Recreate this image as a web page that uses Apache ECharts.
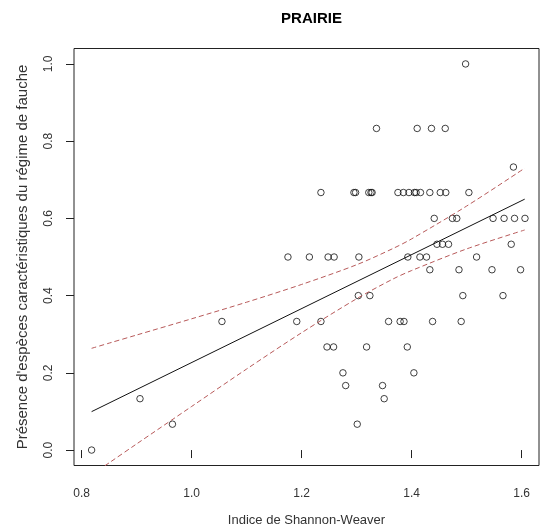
<!DOCTYPE html>
<html>
<head>
<meta charset="utf-8">
<script src="https://cdn.jsdelivr.net/npm/echarts@6/dist/echarts.min.js"></script>
<style>html,body{margin:0;padding:0;background:#fff}#c{width:542px;height:532px}</style>
</head>
<body>
<div id="c"></div>
<script>
// Shannon-Weaver index (x) and presence of mowing-regime species (y)
var shannon = [
  1.498,
  1.336, 1.410, 1.436, 1.461,
  1.585,
  1.235, 1.295, 1.298, 1.322, 1.326, 1.328, 1.375, 1.385, 1.395, 1.405, 1.408, 1.416, 1.433, 1.452, 1.462, 1.504,
  1.441, 1.474, 1.482, 1.548, 1.568, 1.587, 1.606,
  1.446, 1.456, 1.467, 1.581,
  1.175, 1.214, 1.248, 1.259, 1.304, 1.393, 1.415, 1.427, 1.518,
  1.433, 1.486, 1.546, 1.598,
  1.303, 1.324, 1.493, 1.566,
  1.055, 1.191, 1.235, 1.358, 1.379, 1.386, 1.438, 1.490,
  1.246, 1.258, 1.318, 1.392,
  1.275, 1.404,
  1.280, 1.347,
  0.906, 1.350,
  0.965, 1.301,
  0.818
];
var presence = [
  1.0,
  0.833, 0.833, 0.833, 0.833,
  0.733,
  0.667, 0.667, 0.667, 0.667, 0.667, 0.667, 0.667, 0.667, 0.667, 0.667, 0.667, 0.667, 0.667, 0.667, 0.667, 0.667,
  0.6, 0.6, 0.6, 0.6, 0.6, 0.6, 0.6,
  0.533, 0.533, 0.533, 0.533,
  0.5, 0.5, 0.5, 0.5, 0.5, 0.5, 0.5, 0.5, 0.5,
  0.467, 0.467, 0.467, 0.467,
  0.4, 0.4, 0.4, 0.4,
  0.333, 0.333, 0.333, 0.333, 0.333, 0.333, 0.333, 0.333,
  0.267, 0.267, 0.267, 0.267,
  0.2, 0.2,
  0.167, 0.167,
  0.133, 0.133,
  0.067, 0.067,
  0.0
];
// fitted regression line end points
var fitX = [0.818, 1.6055];
var fitY = [0.0995, 0.6498];
// confidence band
var bandX     = [0.818, 0.85, 0.9, 1.0, 1.1, 1.2, 1.3, 1.366, 1.4, 1.5, 1.6055];
var bandUpper = [0.2635, 0.277, 0.298, 0.340, 0.383, 0.429, 0.480, 0.522, 0.547, 0.632, 0.730];
var bandLower = [-0.0645, -0.033, 0.016, 0.113, 0.210, 0.304, 0.392, 0.443, 0.465, 0.521, 0.570];
// tick labels
var xTicks = [0.8, 1.0, 1.2, 1.4, 1.6];
var yTicks = [0.0, 0.2, 0.4, 0.6, 0.8, 1.0];

function pairs(a, b) { return a.map(function (v, i) { return [v, b[i]]; }); }

var FONT = '"Liberation Sans", Arial, sans-serif';
var dashCol = '#b85a5a';

var chart = echarts.init(document.getElementById('c'), null, {renderer: 'canvas'});
chart.setOption({
  animation: false,
  backgroundColor: '#fff',
  title: {
    text: 'PRAIRIE',
    left: 306.5,
    top: 6,
    textAlign: 'center',
    textStyle: {fontFamily: FONT, fontWeight: 'bold', fontSize: 15, color: '#000'}
  },
  grid: {
    left: 74, right: 3, top: 48.5, bottom: 66.5,
    show: true, borderColor: '#222', borderWidth: 1, backgroundColor: 'transparent',
    containLabel: false
  },
  xAxis: {
    type: 'value', min: 0.786, max: 1.6315,
    name: 'Indice de Shannon-Weaver', nameLocation: 'middle', nameGap: 48,
    nameTextStyle: {fontFamily: FONT, fontSize: 13, color: '#333'},
    axisLine: {show: false},
    axisTick: {show: true, inside: false, length: 8, customValues: xTicks, lineStyle: {color: '#222', width: 1}},
    axisLabel: {show: true, margin: 22, customValues: xTicks, fontFamily: FONT, fontSize: 12, color: '#333',
      formatter: function (v) { return v.toFixed(1); }},
    splitLine: {show: false}
  },
  yAxis: {
    type: 'value', min: -0.04, max: 1.04,
    name: "Présence d'espèces caractéristiques du régime de fauche", nameLocation: 'middle', nameGap: 44, nameRotate: 90,
    nameTextStyle: {fontFamily: FONT, fontSize: 15, color: '#333'},
    axisLine: {show: false},
    axisTick: {show: true, inside: false, length: 8, customValues: yTicks, lineStyle: {color: '#222', width: 1}},
    axisLabel: {show: true, margin: 19, rotate: 90, customValues: yTicks, fontFamily: FONT, fontSize: 12, color: '#333',
      formatter: function (v) { return v.toFixed(1); }},
    splitLine: {show: false}
  },
  series: [
    {
      type: 'scatter',
      data: pairs(shannon, presence),
      symbol: 'circle', symbolSize: 6.5,
      itemStyle: {color: 'rgba(0,0,0,0)', borderColor: '#111', borderWidth: 1},
      emphasis: {disabled: true},
      silent: true
    },
    {
      type: 'line', data: pairs(fitX, fitY), symbol: 'none', silent: true,
      lineStyle: {color: '#111', width: 1}
    },
    {
      type: 'line', data: pairs(bandX, bandUpper), symbol: 'none', silent: true, smooth: 0.3, clip: true,
      lineStyle: {color: dashCol, width: 1, type: [5, 3]}
    },
    {
      type: 'line', data: pairs(bandX, bandLower), symbol: 'none', silent: true, smooth: 0.3, clip: true,
      lineStyle: {color: dashCol, width: 1, type: [5, 3]}
    }
  ]
});
</script>
</body>
</html>
